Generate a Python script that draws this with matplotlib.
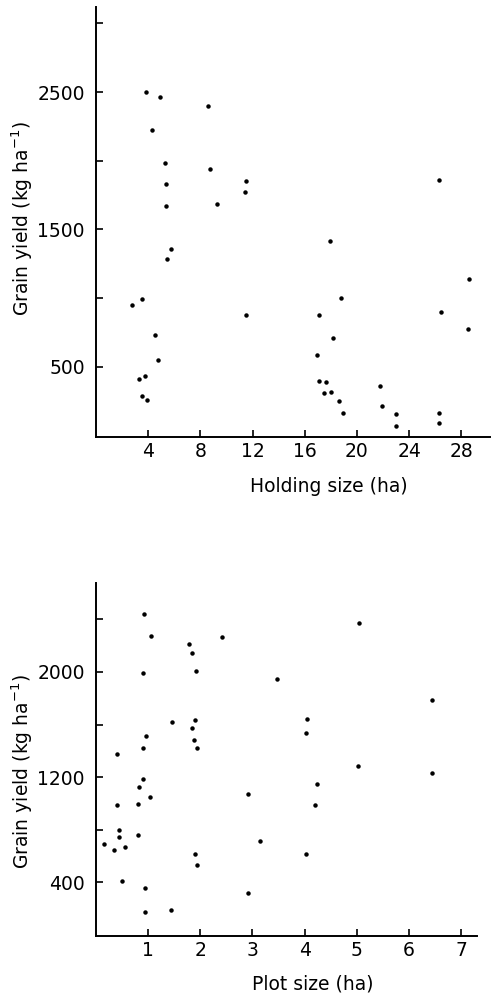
import matplotlib
matplotlib.use('Agg')
import matplotlib.pyplot as plt
from matplotlib.ticker import FixedLocator

# Top panel: holding size vs grain yield
holding_size = [3.8, 4.87, 8.6, 4.3, 5.3, 8.72, 5.4, 11.5, 11.45, 26.3, 5.35, 9.28,
                17.9, 5.76, 5.47, 28.6, 2.75, 3.52, 18.75, 11.5, 17.06, 26.47, 28.5,
                4.54, 18.2, 16.93, 4.77, 3.29, 3.72, 17.08, 17.6, 21.75, 17.5, 18.03,
                3.54, 3.92, 18.6, 21.9, 18.9, 22.98, 26.3, 22.98, 26.3]
yield_holding = [2503, 2461, 2397, 2222, 1983, 1939, 1830, 1849, 1774, 1862, 1672, 1686,
                 1416, 1358, 1287, 1138, 948, 992, 997, 878, 875, 897, 775,
                 727, 707, 585, 551, 410, 434, 395, 386, 361, 305, 317,
                 283, 254, 247, 213, 159, 154, 161, 71, 91]

# Bottom panel: plot size vs grain yield
plot_size = [0.92, 1.05, 2.41, 1.78, 1.85, 5.05, 0.91, 1.91, 3.47, 6.45, 1.45, 1.9,
             4.05, 1.84, 0.96, 4.03, 1.88, 0.91, 1.93, 0.41, 5.02, 6.44, 0.91, 0.82,
             4.24, 1.04, 2.92, 0.41, 0.80, 4.19, 0.45, 0.45, 0.80, 0.15, 3.15, 0.35,
             0.55, 1.9, 4.03, 1.93, 0.5, 0.94, 2.92, 0.94, 1.44]
yield_plot = [2438, 2276, 2266, 2213, 2144, 2375, 1990, 2010, 1945, 1788, 1620, 1631,
              1641, 1573, 1514, 1535, 1484, 1418, 1418, 1375, 1281, 1233, 1185, 1125,
              1147, 1049, 1071, 985, 998, 990, 800, 745, 762, 694, 714, 646,
              666, 616, 618, 535, 411, 358, 322, 175, 193]

holding_ticks = [4, 8, 12, 16, 20, 24, 28]
plot_ticks = [1, 2, 3, 4, 5, 6, 7]

plt.rcParams['font.family'] = 'DejaVu Sans'
fs = 13.5
ylabel = 'Grain yield (kg ha$^{-1}$)'

fig = plt.figure(figsize=(4.91, 9.94), dpi=100)
ax1 = fig.add_axes([0.1955, 0.5607, 0.8025, 0.4323])
ax2 = fig.add_axes([0.1955, 0.0587, 0.7755, 0.3548])

def style(ax):
    for s in ['top', 'right']:
        ax.spines[s].set_visible(False)
    for s in ['left', 'bottom']:
        ax.spines[s].set_linewidth(1.4)
    ax.tick_params(which='both', direction='in', length=5, width=1.2, labelsize=fs)
    ax.tick_params(axis='y', which='both', pad=8)

ax1.plot(holding_size, yield_holding, 'o', color='black', markersize=2.2)
ax1.set_xlim(0, 30.2)
ax1.set_ylim(-10, 3120)
ax1.xaxis.set_major_locator(FixedLocator(holding_ticks))
ax1.yaxis.set_major_locator(FixedLocator([500, 1500, 2500]))
ax1.yaxis.set_minor_locator(FixedLocator([1000, 2000, 3000]))
style(ax1)
ax1.set_xlabel('Holding size (ha)', fontsize=fs)
ax1.xaxis.set_label_coords(0.59, -0.095)
ax1.set_ylabel(ylabel, fontsize=fs)
ax1.yaxis.set_label_coords(-0.155, 0.508)

ax2.plot(plot_size, yield_plot, 'o', color='black', markersize=2.2)
ax2.set_xlim(0, 7.3)
ax2.set_ylim(-5, 2676)
ax2.xaxis.set_major_locator(FixedLocator(plot_ticks))
ax2.yaxis.set_major_locator(FixedLocator([400, 1200, 2000]))
ax2.yaxis.set_minor_locator(FixedLocator([800, 1600, 2400]))
style(ax2)
ax2.set_xlabel('Plot size (ha)', fontsize=fs)
ax2.xaxis.set_label_coords(0.57, -0.11)
ax2.set_ylabel(ylabel, fontsize=fs)
ax2.yaxis.set_label_coords(-0.16, 0.464)

fig.savefig('out.png', dpi=100)
